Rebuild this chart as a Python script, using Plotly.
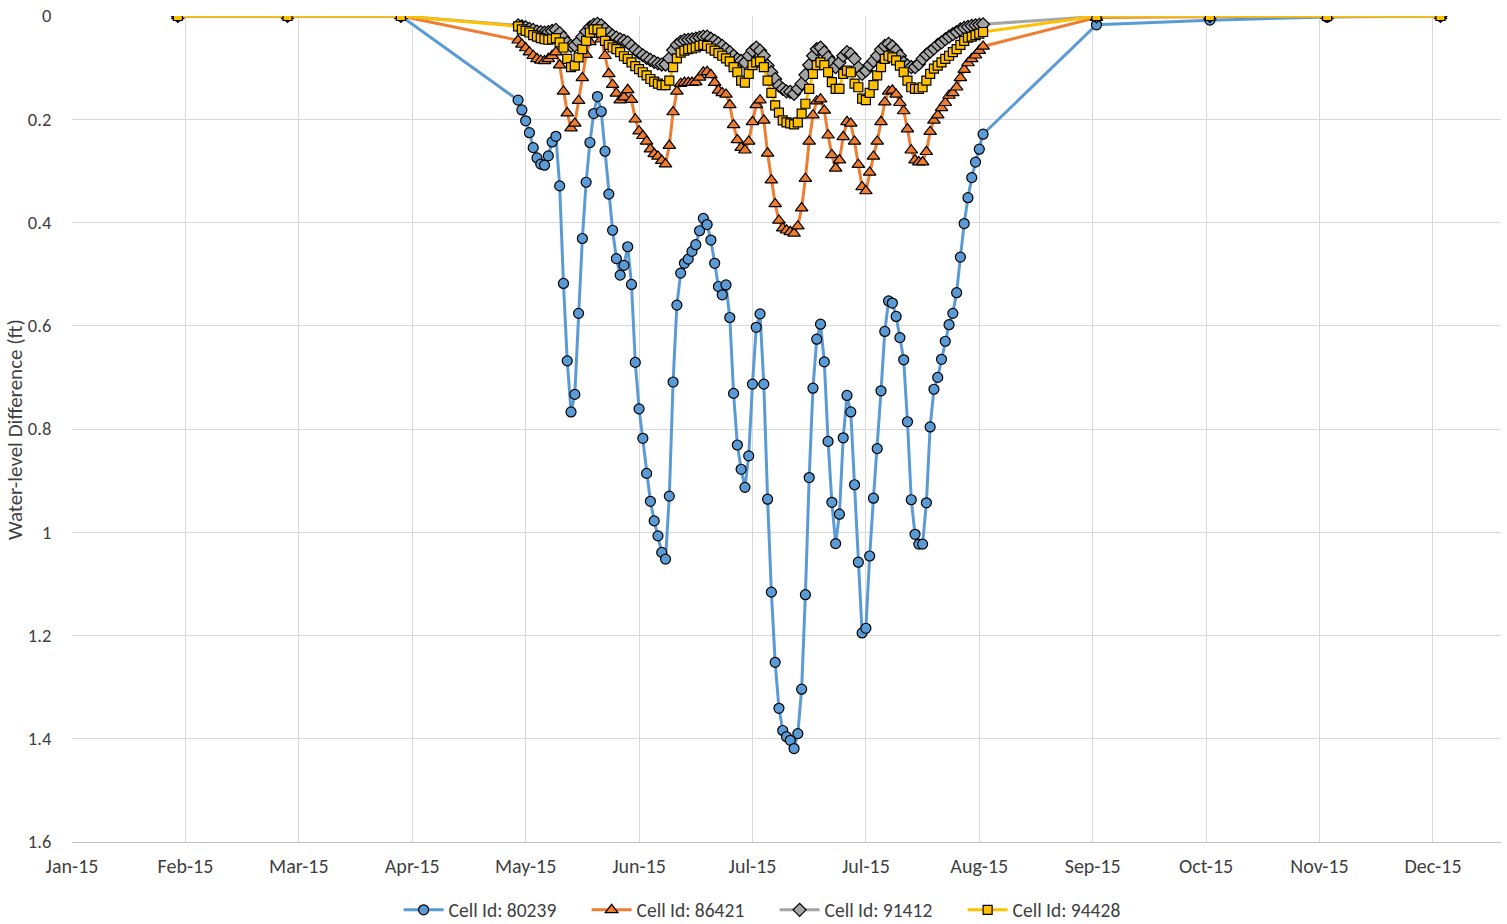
import pandas as pd
import plotly.graph_objects as go

# Sample dates: month-end values, a daily run through the summer, then month-end again
dates_before = ["2015-01-30", "2015-02-28", "2015-03-30"]
dates_daily = [d.strftime("%Y-%m-%d") for d in pd.date_range("2015-04-30", "2015-08-31", freq="D")]
dates_after = ["2015-09-30", "2015-10-30", "2015-11-30", "2015-12-30"]
dates = dates_before + dates_daily + dates_after

# Water-level difference (ft) per model cell
cell_80239 = [0.0, 0.0, 0.0,
    0.163, 0.182, 0.203, 0.226, 0.255, 0.275, 0.287, 0.289, 0.271, 0.244,
    0.233, 0.329, 0.518, 0.668, 0.767, 0.733, 0.576, 0.431, 0.322, 0.245,
    0.189, 0.156, 0.185, 0.262, 0.345, 0.415, 0.470, 0.502, 0.483, 0.447,
    0.520, 0.671, 0.761, 0.818, 0.886, 0.940, 0.978, 1.007, 1.039, 1.052,
    0.930, 0.709, 0.560, 0.498, 0.479, 0.471, 0.456, 0.443, 0.416, 0.392,
    0.404, 0.434, 0.479, 0.524, 0.540, 0.521, 0.584, 0.731, 0.831, 0.878,
    0.913, 0.852, 0.713, 0.603, 0.577, 0.713, 0.936, 1.116, 1.252, 1.341,
    1.384, 1.396, 1.403, 1.419, 1.390, 1.304, 1.121, 0.894, 0.721, 0.626,
    0.597, 0.670, 0.824, 0.942, 1.022, 0.965, 0.817, 0.735, 0.767, 0.908,
    1.058, 1.195, 1.186, 1.046, 0.934, 0.838, 0.726, 0.611, 0.552, 0.556,
    0.582, 0.623, 0.666, 0.786, 0.937, 1.004, 1.023, 1.023, 0.943, 0.796,
    0.723, 0.700, 0.665, 0.630, 0.598, 0.576, 0.536, 0.467, 0.402, 0.352,
    0.313, 0.283, 0.258, 0.229,
    0.017, 0.008, 0.002, 0.0]

cell_86421 = [0.0, 0.0, 0.0,
    0.047, 0.055, 0.062, 0.070, 0.077, 0.083, 0.086, 0.087, 0.083, 0.077,
    0.070, 0.095, 0.146, 0.188, 0.217, 0.208, 0.164, 0.120, 0.075, 0.050,
    0.036, 0.030, 0.045, 0.077, 0.112, 0.133, 0.150, 0.163, 0.157, 0.143,
    0.162, 0.200, 0.223, 0.232, 0.243, 0.258, 0.267, 0.272, 0.280, 0.287,
    0.251, 0.186, 0.146, 0.131, 0.129, 0.129, 0.129, 0.128, 0.119, 0.109,
    0.108, 0.114, 0.129, 0.144, 0.149, 0.152, 0.172, 0.211, 0.240, 0.255,
    0.260, 0.243, 0.205, 0.172, 0.163, 0.202, 0.266, 0.318, 0.364, 0.396,
    0.411, 0.415, 0.418, 0.421, 0.407, 0.372, 0.315, 0.243, 0.192, 0.165,
    0.161, 0.183, 0.231, 0.269, 0.295, 0.279, 0.234, 0.205, 0.208, 0.243,
    0.288, 0.331, 0.339, 0.303, 0.272, 0.243, 0.205, 0.167, 0.146, 0.144,
    0.152, 0.168, 0.184, 0.219, 0.260, 0.279, 0.283, 0.283, 0.263, 0.224,
    0.202, 0.192, 0.178, 0.168, 0.154, 0.149, 0.138, 0.120, 0.104, 0.091,
    0.083, 0.076, 0.067, 0.059,
    0.003, 0.001, 0.0, 0.0]

cell_91412 = [0.0, 0.0, 0.0,
    0.018, 0.020, 0.022, 0.025, 0.027, 0.030, 0.031, 0.032, 0.031, 0.029,
    0.027, 0.033, 0.042, 0.052, 0.058, 0.057, 0.050, 0.040, 0.030, 0.022,
    0.017, 0.015, 0.018, 0.025, 0.032, 0.038, 0.042, 0.045, 0.048, 0.051,
    0.058, 0.065, 0.071, 0.076, 0.081, 0.085, 0.089, 0.092, 0.094, 0.094,
    0.082, 0.066, 0.056, 0.050, 0.047, 0.046, 0.045, 0.044, 0.042, 0.040,
    0.040, 0.044, 0.048, 0.053, 0.058, 0.064, 0.070, 0.077, 0.084, 0.087,
    0.090, 0.077, 0.067, 0.061, 0.067, 0.077, 0.096, 0.109, 0.122, 0.135,
    0.141, 0.146, 0.147, 0.151, 0.141, 0.131, 0.114, 0.095, 0.077, 0.064,
    0.061, 0.070, 0.080, 0.090, 0.099, 0.090, 0.077, 0.070, 0.074, 0.083,
    0.100, 0.112, 0.106, 0.095, 0.087, 0.077, 0.065, 0.058, 0.054, 0.059,
    0.067, 0.077, 0.090, 0.096, 0.099, 0.099, 0.093, 0.083, 0.075, 0.069,
    0.063, 0.056, 0.051, 0.045, 0.040, 0.035, 0.031, 0.026, 0.023, 0.021,
    0.019, 0.018, 0.017, 0.016,
    0.001, 0.0, 0.0, 0.0]

cell_94428 = [0.0, 0.0, 0.0,
    0.020, 0.026, 0.029, 0.032, 0.037, 0.040, 0.043, 0.045, 0.046, 0.045,
    0.043, 0.051, 0.061, 0.083, 0.099, 0.096, 0.080, 0.064, 0.048, 0.032,
    0.026, 0.026, 0.032, 0.048, 0.056, 0.061, 0.064, 0.070, 0.078, 0.083,
    0.090, 0.097, 0.103, 0.109, 0.115, 0.122, 0.127, 0.131, 0.134, 0.134,
    0.125, 0.099, 0.082, 0.071, 0.067, 0.064, 0.063, 0.061, 0.058, 0.056,
    0.058, 0.063, 0.067, 0.072, 0.077, 0.082, 0.088, 0.099, 0.109, 0.125,
    0.129, 0.112, 0.095, 0.090, 0.088, 0.099, 0.125, 0.149, 0.173, 0.187,
    0.202, 0.206, 0.208, 0.210, 0.206, 0.189, 0.170, 0.141, 0.112, 0.095,
    0.090, 0.095, 0.109, 0.128, 0.141, 0.141, 0.112, 0.106, 0.109, 0.131,
    0.138, 0.160, 0.163, 0.149, 0.134, 0.115, 0.099, 0.083, 0.077, 0.080,
    0.086, 0.096, 0.109, 0.125, 0.138, 0.141, 0.141, 0.138, 0.125, 0.112,
    0.102, 0.096, 0.090, 0.083, 0.077, 0.070, 0.064, 0.056, 0.048, 0.042,
    0.040, 0.037, 0.034, 0.031,
    0.0, 0.0, 0.0, 0.0]

series_names = ["Cell Id: 80239", "Cell Id: 86421", "Cell Id: 91412", "Cell Id: 94428"]
series_values = [cell_80239, cell_86421, cell_91412, cell_94428]

y_ticks = [0, 0.2, 0.4, 0.6, 0.8, 1, 1.2, 1.4, 1.6]
y_tick_labels = ["0", "0.2", "0.4", "0.6", "0.8", "1", "1.2", "1.4", "1.6"]
y_title = "Water-level Difference (ft)"

FONT = "Calibri, Carlito, Lato, sans-serif"
TEXT = "#404040"
styles = [
    dict(color="#5B9BD5", symbol="circle", size=10),
    dict(color="#ED7D31", symbol="triangle-up", size=11),
    dict(color="#A5A5A5", symbol="diamond", size=10),
    dict(color="#FFC000", symbol="square", size=9),
]

fig = go.Figure()
for name, vals, st in zip(series_names, series_values, styles):
    fig.add_trace(go.Scatter(
        x=dates, y=vals, name=name, mode="lines+markers",
        line=dict(color=st["color"], width=3),
        marker=dict(symbol=st["symbol"], size=st["size"], color=st["color"],
                    line=dict(color="#000000", width=1.2)),
    ))

fig.update_layout(
    width=1507, height=924,
    margin=dict(l=72, r=6, t=16, b=82, autoexpand=False),
    paper_bgcolor="white", plot_bgcolor="white",
    font=dict(family=FONT, size=19, color=TEXT),
    showlegend=True,
    legend=dict(orientation="h", xref="container", yref="container",
                x=0.2645, xanchor="left", y=0.015, yanchor="middle",
                font=dict(family=FONT, size=19.5, color=TEXT),
                itemwidth=40,
                entrywidth=133, entrywidthmode="pixels", traceorder="normal"),
    annotations=[dict(
        text=y_title, xref="paper", yref="paper", x=-0.0399, y=0.5,
        xanchor="center", yanchor="middle", textangle=-90, showarrow=False,
        font=dict(family=FONT, size=21, color=TEXT),
    )],
)

fig.update_xaxes(
    type="date",
    range=["2015-01-02", "2016-01-15"],
    tickmode="linear", tick0="2015-01-02", dtick=30 * 24 * 3600 * 1000,
    tickformat="%b-%y",
    showgrid=True, gridcolor="#D9D9D9", gridwidth=1,
    showline=True, linecolor="#BFBFBF", linewidth=1,
    ticks="outside", ticklen=6, tickcolor="rgba(0,0,0,0)",
    zeroline=False, automargin=False,
    tickfont=dict(family=FONT, size=20, color=TEXT),
)

fig.update_yaxes(
    range=[1.6, 0],
    tickmode="array", tickvals=y_ticks, ticktext=y_tick_labels,
    showgrid=True, gridcolor="#D9D9D9", gridwidth=1,
    showline=False, zeroline=False, automargin=False,
    ticks="outside", ticklen=16, tickcolor="rgba(0,0,0,0)",
    tickfont=dict(family=FONT, size=18.5, color=TEXT),
)

fig.write_html("out.html")
